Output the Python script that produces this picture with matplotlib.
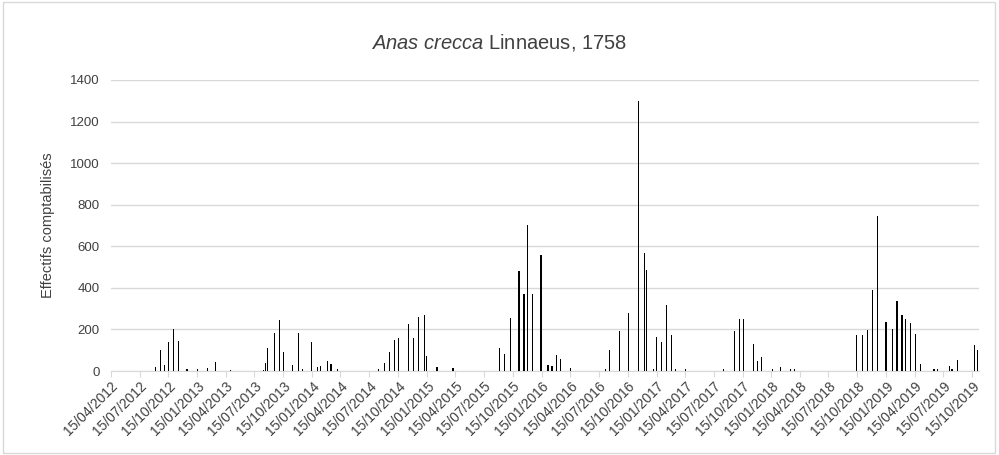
import pandas as pd
import matplotlib
matplotlib.use('Agg')
import matplotlib.pyplot as plt
import matplotlib.dates as mdates
from matplotlib.patches import Rectangle

plt.rcParams['font.family'] = ['Liberation Sans', 'DejaVu Sans']
plt.rcParams['mathtext.fontset'] = 'custom'
plt.rcParams['mathtext.rm'] = 'Liberation Sans'
plt.rcParams['mathtext.it'] = 'Liberation Sans:italic'

# dates des comptages et effectifs
dates = ['2012-09-05', '2012-09-19', '2012-10-03', '2012-10-16', '2012-10-31', '2012-11-15',
         '2012-12-13', '2013-01-16', '2013-02-15', '2013-03-14', '2013-05-01',
         '2013-08-13', '2013-08-21', '2013-08-27', '2013-09-16', '2013-10-04', '2013-10-17',
         '2013-11-13', '2013-12-04', '2013-12-16', '2014-01-13', '2014-02-02', '2014-02-12',
         '2014-03-05', '2014-03-16', '2014-04-05',
         '2014-08-14', '2014-09-03', '2014-09-17', '2014-10-04', '2014-10-18', '2014-11-17',
         '2014-12-04', '2014-12-18', '2015-01-07', '2015-01-13', '2015-02-16', '2015-04-08',
         '2015-09-04', '2015-09-18', '2015-10-08', '2015-11-04', '2015-11-20', '2015-12-02',
         '2015-12-16', '2016-01-13', '2016-02-04', '2016-02-17', '2016-03-01', '2016-03-15',
         '2016-04-15',
         '2016-08-04', '2016-08-17', '2016-09-18', '2016-10-17', '2016-11-17', '2016-12-08',
         '2016-12-13', '2017-01-04', '2017-01-13', '2017-01-30', '2017-02-16', '2017-03-02',
         '2017-03-16', '2017-04-16',
         '2017-08-15', '2017-09-18', '2017-10-04', '2017-10-18', '2017-11-18', '2017-12-01',
         '2017-12-14', '2018-01-17', '2018-02-14', '2018-03-16', '2018-03-28',
         '2018-10-12', '2018-10-31', '2018-11-15', '2018-12-01', '2018-12-18', '2019-01-14',
         '2019-02-03', '2019-02-18', '2019-03-06', '2019-03-17', '2019-04-03', '2019-04-17',
         '2019-05-03', '2019-06-16', '2019-06-26', '2019-08-03', '2019-08-12', '2019-08-29',
         '2019-10-22', '2019-11-01']
effectifs = [18, 100, 28, 140, 202, 145,
             11, 11, 16, 44, 6,
             6, 39, 110, 182, 243, 90,
             28, 182, 8, 140, 18, 23,
             48, 32, 8,
             8, 39, 90, 150, 161, 227,
             161, 260, 269, 73, 18, 13,
             110, 84, 255, 479, 371, 700,
             371, 560, 28, 23, 79, 57,
             16,
             8, 100, 192, 279, 1300, 570,
             485, 8, 166, 140, 319, 171,
             8, 8,
             8, 192, 248, 248, 131, 48,
             68, 8, 18, 8, 8,
             172, 172, 198, 388, 746, 238,
             203, 337, 269, 250, 232, 177,
             34, 8, 8, 24, 8, 53,
             126, 100]

x = pd.to_datetime(dates)

fig = plt.figure(figsize=(9.99, 4.55), dpi=100)
ax = fig.add_axes([0.111, 0.1846, 0.869, 0.6396])

ax.bar(x, effectifs, width=3.6, color='black', linewidth=0, zorder=3)

gris = '#404040'
ax.set_ylim(0, 1400)
ax.set_yticks(range(0, 1401, 200))
ax.yaxis.grid(True, color='#d9d9d9', linewidth=1)
ax.set_axisbelow(True)
ax.set_xlim(pd.Timestamp('2012-04-15'), pd.Timestamp('2019-11-06'))
ax.xaxis.set_major_locator(mdates.MonthLocator(bymonth=(1, 4, 7, 10), bymonthday=15))
ax.xaxis.set_major_formatter(mdates.DateFormatter('%d/%m/%Y'))
plt.setp(ax.get_xticklabels(), rotation=45, ha='right', rotation_mode='anchor')

for s in ['top', 'right', 'left']:
    ax.spines[s].set_visible(False)
ax.spines['bottom'].set_color('#d9d9d9')
ax.tick_params(axis='y', length=0, labelsize=9.5, labelcolor=gris, pad=8)
ax.tick_params(axis='x', length=4, color='#d9d9d9', labelsize=10, labelcolor=gris, pad=2)

ax.set_ylabel('Effectifs comptabilisés', fontsize=10.5, color=gris, labelpad=11)
fig.text(0.5, 0.907, r'$\it{Anas\ crecca}$ Linnaeus, 1758', ha='center', va='center',
         fontsize=14.5, color=gris)

fig.patches.append(Rectangle((0.003, 0.005), 0.993, 0.99, transform=fig.transFigure,
                             fill=False, edgecolor='#d9d9d9', linewidth=1))

plt.savefig('out.png', dpi=100)
